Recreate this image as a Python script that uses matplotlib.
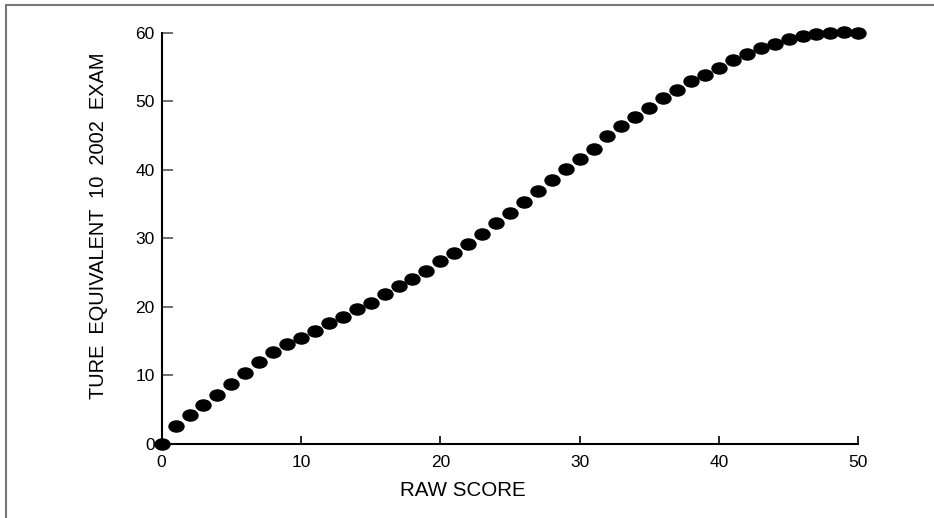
import matplotlib
matplotlib.use("Agg")
import matplotlib.pyplot as plt
import numpy as np
from matplotlib.path import Path
from matplotlib.transforms import Affine2D
from matplotlib.patches import Rectangle

raw_score = list(range(0, 51))
true_equivalent = [
    0.0, 2.6, 4.3, 5.7, 7.2, 8.8, 10.4, 11.9, 13.35, 14.6,
    15.5, 16.5, 17.6, 18.55, 19.65, 20.6, 21.85, 23.0, 24.0, 25.25,
    26.65, 27.8, 29.2, 30.7, 32.25, 33.75, 35.25, 36.9, 38.55, 40.05,
    41.55, 43.1, 44.9, 46.4, 47.7, 49.05, 50.45, 51.7, 53.0, 53.9,
    54.9, 56.0, 56.85, 57.7, 58.35, 59.05, 59.5, 59.75, 59.9, 60.1,
    59.95,
]
x_ticks = [0, 10, 20, 30, 40, 50]
y_ticks = [0, 10, 20, 30, 40, 50, 60]
x_label = "RAW SCORE"
y_label = "TURE  EQUIVALENT  10  2002  EXAM"

FONT = ['Liberation Sans', 'DejaVu Sans']
plt.rcParams['font.family'] = FONT

W, H = 934, 518
fig = plt.figure(figsize=(W / 100, H / 100), dpi=100)
ax = fig.add_axes([0.1731, 0.1429, 0.9189 - 0.1731, 0.9369 - 0.1429])

# elliptical marker
circ = Path.unit_circle()
ell = Path(Affine2D().scale(1.0, 0.74).transform(circ.vertices), circ.codes)

ax.plot(raw_score, true_equivalent, linestyle='none', marker=ell,
        markersize=10.8, color='black', clip_on=False, zorder=5)

ax.set_xlim(0, 50)
ax.set_ylim(0, 60)
ax.set_xticks(x_ticks)
ax.set_yticks(y_ticks)
ax.set_xticklabels([str(v) for v in x_ticks])
ax.set_yticklabels([str(v) for v in y_ticks])

for s in ['top', 'right']:
    ax.spines[s].set_visible(False)
for s in ['left', 'bottom']:
    ax.spines[s].set_color('black')
    ax.spines[s].set_linewidth(1.5)

ax.tick_params(axis='x', direction='in', length=6, width=1.2, color='black',
               labelsize=12.5, pad=8)
ax.tick_params(axis='y', direction='in', length=8, width=1.2, color='#555555',
               labelsize=12.5, pad=5)

# axis titles
fig.text(463 / W, 1 - 495.7 / H, x_label, fontsize=14.8,
         ha='center', va='baseline')
fig.text(104.5 / W, 1 - 226 / H, y_label, fontsize=14.4, rotation=90,
         rotation_mode='anchor', ha='center', va='baseline')

# outer frame (left and top visible)
fig.patches.append(Rectangle((5.5 / W, -0.1), 2.0, 1.1 - 5.5 / H,
                             transform=fig.transFigure, fill=False,
                             edgecolor='#777777', linewidth=1.5))

fig.savefig('out.png', dpi=100, facecolor='white')
